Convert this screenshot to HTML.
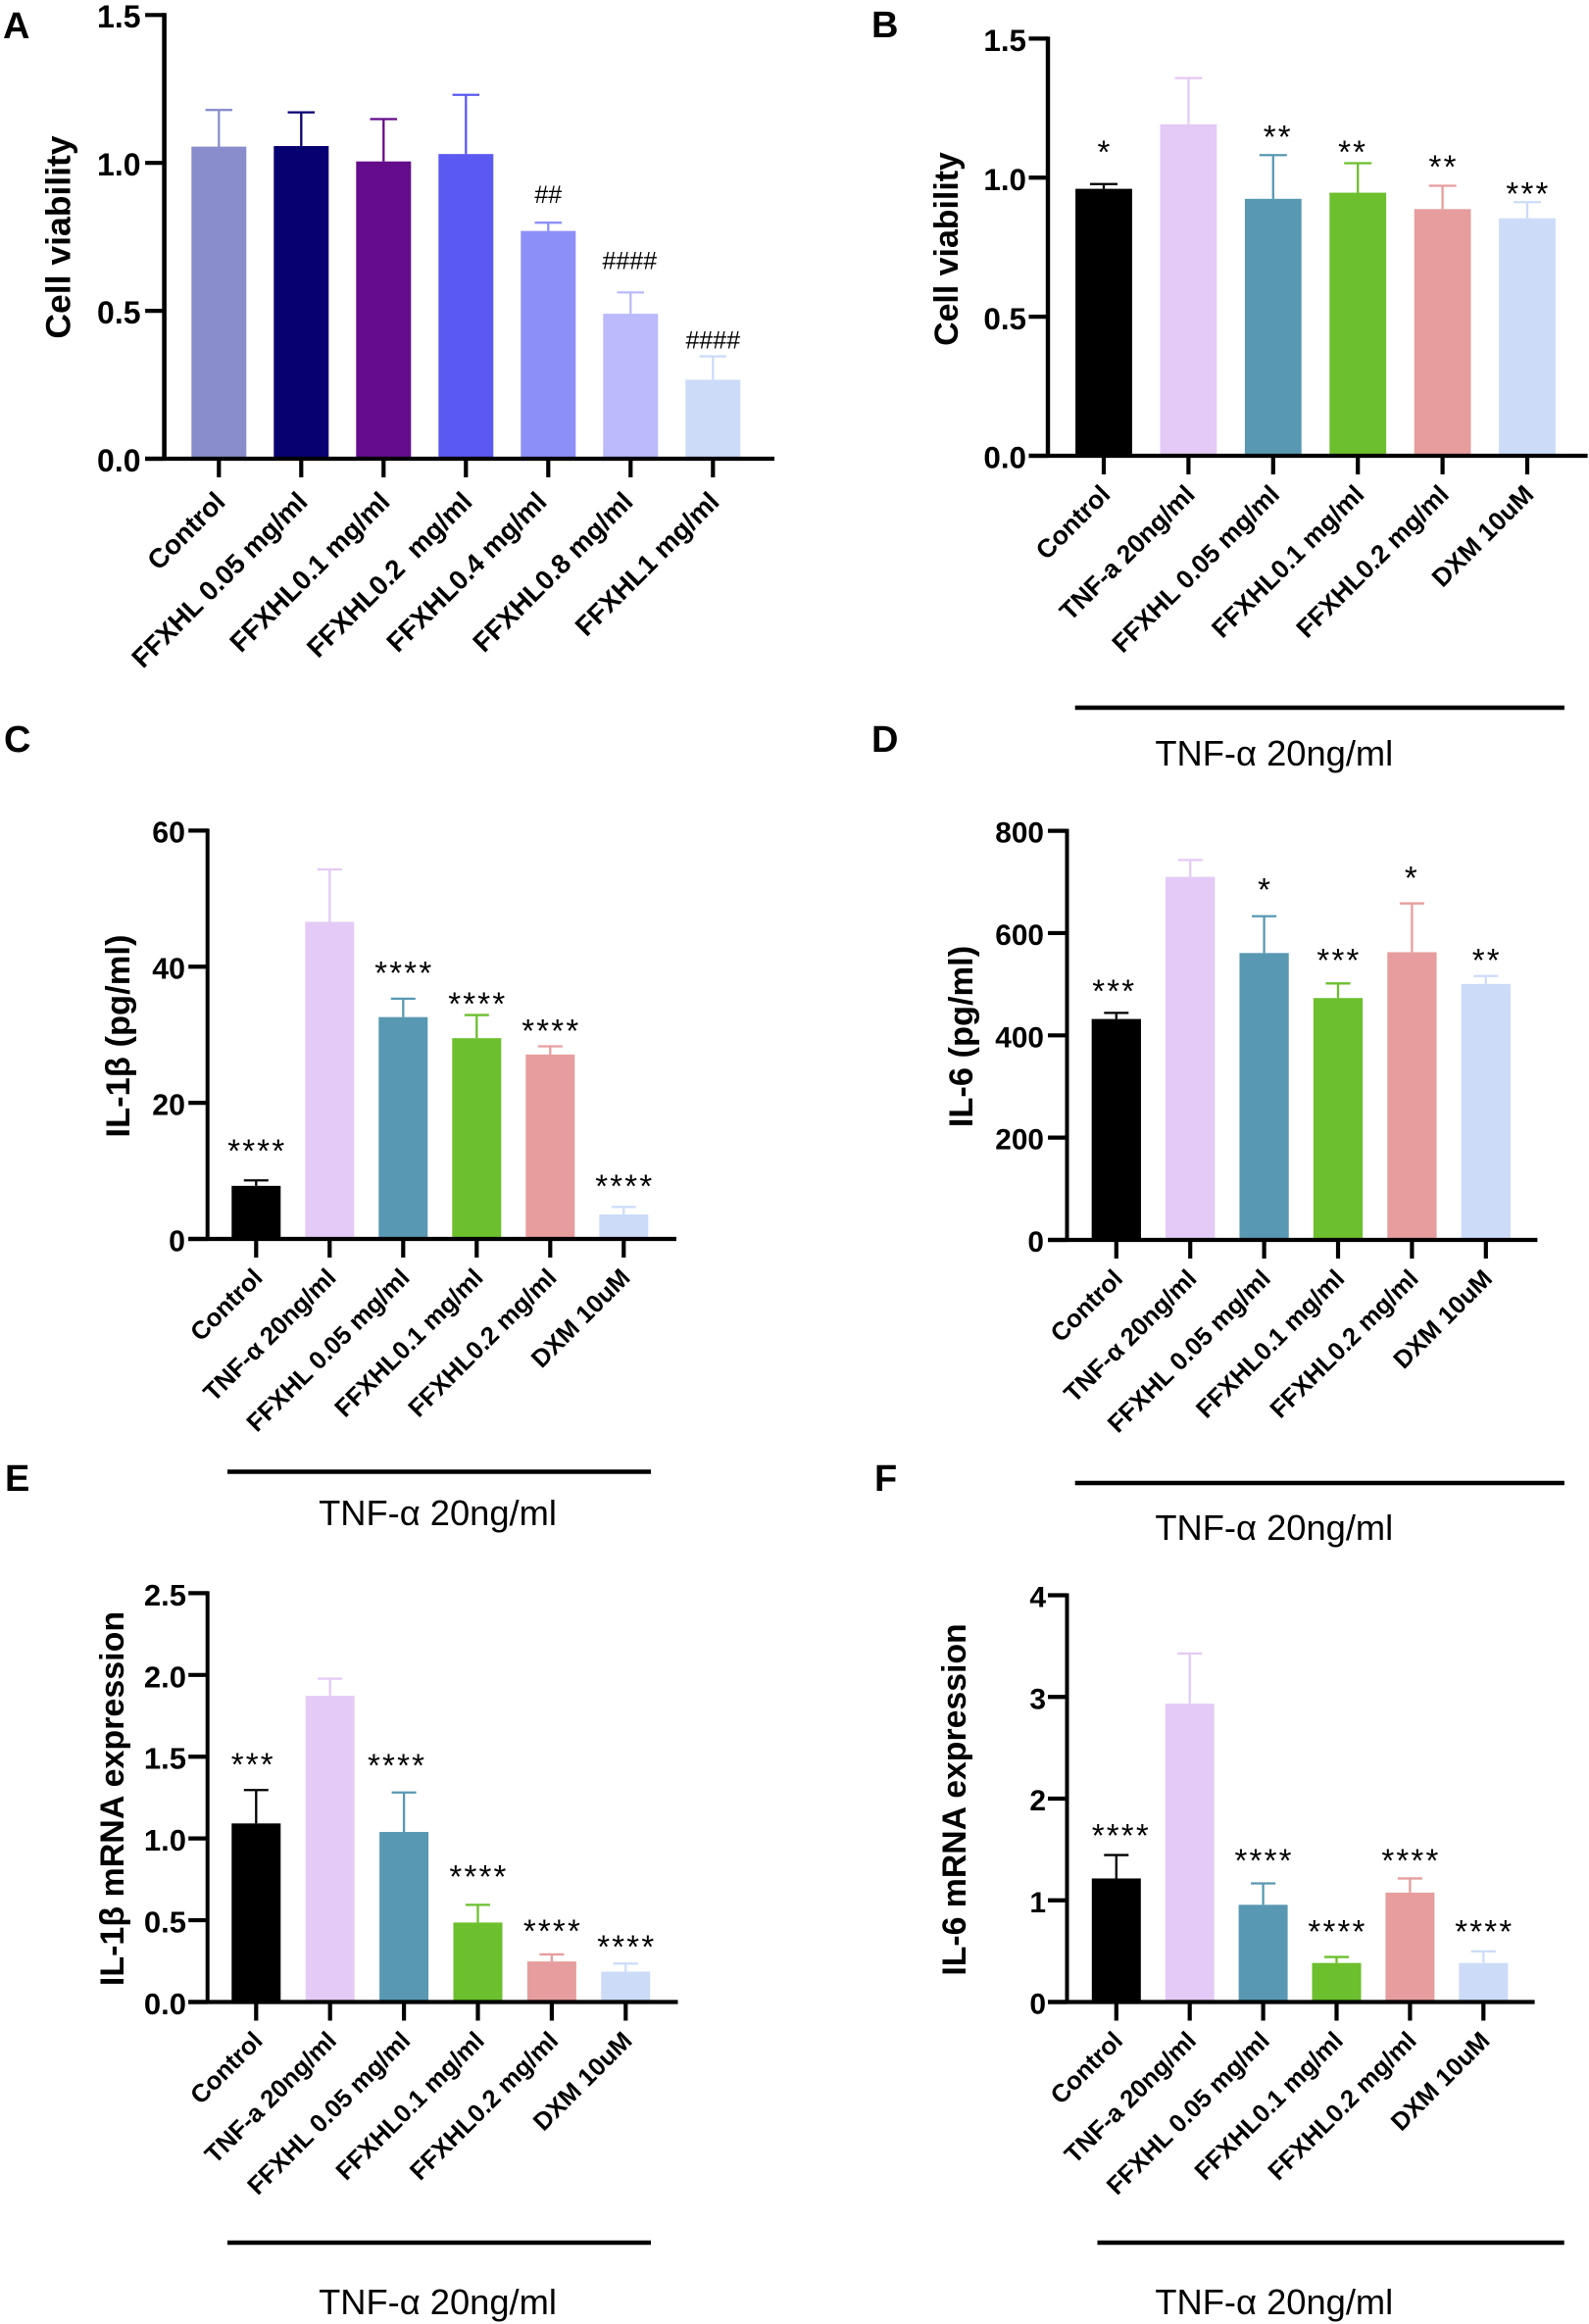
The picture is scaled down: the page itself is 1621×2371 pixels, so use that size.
<!DOCTYPE html>
<html lang="en">
<head>
<meta charset="utf-8">
<title>Cell viability and cytokine expression bar charts</title>
<style>
html,body{margin:0;padding:0;background:#fff;}
#figure{display:block;width:1621px;height:2371px;background:#fff;}
text{font-family:"Liberation Sans",sans-serif;white-space:pre;fill:#000;}
</style>
</head>
<body>
<svg id="figure" xmlns="http://www.w3.org/2000/svg" width="1621" height="2371" viewBox="0 0 1621 2371"></svg>
<script>
// ---- Panel A data ----
const aCategories = ["Control","FFXHL 0.05 mg/ml","FFXHL0.1 mg/ml","FFXHL0.2  mg/ml","FFXHL0.4 mg/ml","FFXHL0.8 mg/ml","FFXHL1 mg/ml"];
const aValues = [1.055,1.057,1.005,1.03,0.77,0.49,0.267];
const aErrorTops = [1.179,1.171,1.148,1.23,0.798,0.562,0.346];
const aTicks = [0,0.5,1.0,1.5];
const aTickLabels = ["0.0","0.5","1.0","1.5"];
const aSigLabels = ["","","","","##","####","####"];
const aSigLevels = [null,null,null,null,0.891,0.667,0.400];
const aColors = ["#8a8dcc","#070070","#650c8c","#5a5af2","#8d8ff8","#babafc","#ccdcf8"];

// ---- Panel B data ----
const bCategories = ["Control","TNF-a 20ng/ml","FFXHL 0.05 mg/ml","FFXHL0.1 mg/ml","FFXHL0.2 mg/ml","DXM 10uM"];
const bValues = [0.960,1.192,0.924,0.946,0.887,0.854];
const bErrorTops = [0.977,1.358,1.081,1.052,0.971,0.912];
const bTicks = [0,0.5,1.0,1.5];
const bTickLabels = ["0.0","0.5","1.0","1.5"];
const bSigLabels = ["*","","**","**","**","***"];
const bSigLevels = [1.106,null,1.160,1.106,1.052,0.955];

// ---- Panel C data ----
const cCategories = ["Control","TNF-α 20ng/ml","FFXHL 0.05 mg/ml","FFXHL0.1 mg/ml","FFXHL0.2 mg/ml","DXM 10uM"];
const cValues = [7.8,46.6,32.6,29.5,27.1,3.6];
const cErrorTops = [8.6,54.3,35.3,32.9,28.3,4.7];
const cTicks = [0,20,40,60];
const cTickLabels = ["0","20","40","60"];
const cSigLabels = ["****","","****","****","****","****"];
const cSigLevels = [13.5,null,39.6,35.1,31.1,8.33];

// ---- Panel D data ----
const dCategories = ["Control","TNF-α 20ng/ml","FFXHL 0.05 mg/ml","FFXHL0.1 mg/ml","FFXHL0.2 mg/ml","DXM 10uM"];
const dValues = [432,710,561,473,562.6,500.5];
const dErrorTops = [444,743,633,501.6,658,516];
const dTicks = [0,200,400,600,800];
const dTickLabels = ["0","200","400","600","800"];
const dSigLabels = ["***","","*","***","*","**"];
const dSigLevels = [494,null,692,554,715,554];

// ---- Panel E data ----
const eCategories = ["Control","TNF-a 20ng/ml","FFXHL 0.05 mg/ml","FFXHL0.1 mg/ml","FFXHL0.2 mg/ml","DXM 10uM"];
const eValues = [1.092,1.872,1.04,0.486,0.248,0.186];
const eErrorTops = [1.296,1.977,1.281,0.594,0.291,0.235];
const eTicks = [0,0.5,1.0,1.5,2.0,2.5];
const eTickLabels = ["0.0","0.5","1.0","1.5","2.0","2.5"];
const eSigLabels = ["***","","****","****","****","****"];
const eSigLevels = [1.476,null,1.470,0.789,0.455,0.362];

// ---- Panel F data ----
const fCategories = ["Control","TNF-a 20ng/ml","FFXHL 0.05 mg/ml","FFXHL0.1 mg/ml","FFXHL0.2 mg/ml","DXM 10uM"];
const fValues = [1.215,2.934,0.956,0.384,1.076,0.384];
const fErrorTops = [1.445,3.427,1.166,0.443,1.215,0.498];
const fTicks = [0,1,2,3,4];
const fTickLabels = ["0","1","2","3","4"];
const fSigLabels = ["****","","****","****","****","****"];
const fSigLevels = [1.674,null,1.430,0.727,1.430,0.727];

const treatmentColors = ["#000000","#e4caf6","#5898b2","#6cbf2d","#e79d9d","#ccdcf8"];
const bracketCaption = "TNF-α 20ng/ml";

const panels = [
 {id:"a",letter:"A",letterX:3,letterY:39,cats:aCategories,vals:aValues,errs:aErrorTops,ticks:aTicks,tickLabels:aTickLabels,sig:aSigLabels,sigLv:aSigLevels,colors:aColors,
  title:"Cell viability",layout:{ax:167.6,axW:4.6,top:15.3,base:468,xEnd:790,first:223.3,step:84,barW:56,capW:27.5,tickFs:32,labelFs:27.7,labelDy:45.5,labelDx:[0,0,0,0,-8,-4,0],labelBaseX:143.5,titleFs:35.5,titleX:71.5,titleY:242,sigDx:[0,0,0,0,0,-1,0]}},
 {id:"b",letter:"B",letterX:889,letterY:38,cats:bCategories,vals:bValues,errs:bErrorTops,ticks:bTicks,tickLabels:bTickLabels,sig:bSigLabels,sigLv:bSigLevels,colors:treatmentColors,
  title:"Cell viability",layout:{ax:1069,axW:4.4,top:39.4,base:465,xEnd:1619.6,first:1126,step:86.4,barW:57.8,capW:28,tickFs:31.4,labelFs:26.4,labelDy:41,labelBaseX:1047,titleFs:33.9,titleX:977,titleY:254,sigDx:[0,0,4,-6,0,0]},
  bracket:{x1:1096.7,x2:1595.9,y:722,textX:1299.8,textY:781}},
 {id:"c",letter:"C",letterX:4,letterY:767,cats:cCategories,vals:cValues,errs:cErrorTops,ticks:cTicks,tickLabels:cTickLabels,sig:cSigLabels,sigLv:cSigLevels,colors:treatmentColors,
  title:"IL-1β (pg/ml)",layout:{ax:211.7,axW:4,top:847.4,base:1264,xEnd:690,first:261.3,step:75,barW:50,capW:25,tickFs:30.3,labelFs:25.7,labelDy:41,labelBaseX:189,titleFs:34.5,titleX:132,titleY:1057,sigDx:[0,0,0,0,0,0]},
  bracket:{x1:232,x2:664,y:1501.5,textX:446.5,textY:1556}},
 {id:"d",letter:"D",letterX:889,letterY:767,cats:dCategories,vals:dValues,errs:dErrorTops,ticks:dTicks,tickLabels:dTickLabels,sig:dSigLabels,sigLv:dSigLevels,colors:treatmentColors,
  title:"IL-6 (pg/ml)",layout:{ax:1088.5,axW:4,top:847.6,base:1265,xEnd:1568.4,first:1138.8,step:75.4,barW:50.3,capW:25,tickFs:29.8,labelFs:25.7,labelDy:41,labelBaseX:1065,titleFs:34.4,titleX:992,titleY:1057.5,sigDx:[-3,0,0,0,-1,0]},
  bracket:{x1:1096.7,x2:1595.9,y:1513,textX:1299.8,textY:1571}},
 {id:"e",letter:"E",letterX:5,letterY:1521,cats:eCategories,vals:eValues,errs:eErrorTops,ticks:eTicks,tickLabels:eTickLabels,sig:eSigLabels,sigLv:eSigLevels,colors:treatmentColors,
  title:"IL-1β mRNA expression",layout:{ax:211.7,axW:4,top:1625.4,base:2042.5,xEnd:691.5,first:261.3,step:75.4,barW:50,capW:25,tickFs:31,labelFs:25.7,labelDy:41,labelBaseX:190,titleFs:34,titleX:126,titleY:1835,sigDx:[-4,0,-8,0,0,0]},
  bracket:{x1:232,x2:664,y:2288,textX:446.5,textY:2361}},
 {id:"f",letter:"F",letterX:892,letterY:1521,cats:fCategories,vals:fValues,errs:fErrorTops,ticks:fTicks,tickLabels:fTickLabels,sig:fSigLabels,sigLv:fSigLevels,colors:treatmentColors,
  title:"IL-6 mRNA expression",layout:{ax:1088.5,axW:4,top:1627.5,base:2042.5,xEnd:1565.6,first:1138.8,step:74.9,barW:50,capW:25,tickFs:30,labelFs:25.7,labelDy:41,labelBaseX:1067,titleFs:33.8,titleX:985,titleY:1836,sigDx:[4,0,0,0,0,0]},
  bracket:{x1:1119.5,x2:1595.7,y:2288,textX:1299.8,textY:2361}}
];

const NS = "http://www.w3.org/2000/svg";
const root = document.getElementById("figure");

function make(tag, attrs, parent, content){
  const node = document.createElementNS(NS, tag);
  for(const k in attrs){ node.setAttribute(k, attrs[k]); }
  if(content !== undefined){ node.textContent = content; }
  parent.appendChild(node);
  return node;
}
function slug(s){ return String(s).toLowerCase().replace(/[^a-z0-9]+/g,"-").replace(/^-|-$/g,""); }

panels.forEach(function(p){
  const L = p.layout;
  const yMax = p.ticks[p.ticks.length-1];
  const yScale = function(v){ return L.base - (v / yMax) * (L.base - L.top); };
  const xScale = function(i){ return L.first + i * L.step; };

  const g = make("g", {}, root);
  
  

  let el = make("text", {x:p.letterX, y:p.letterY, "font-size":38, "font-weight":"bold"}, g, p.letter);
  
  

  // error bars and bars
  p.cats.forEach(function(cat, i){
    const cx = xScale(i);
    const yTop = yScale(p.vals[i]);
    const yErr = yScale(p.errs[i]);
    const col = p.colors[i];

    const stem = make("line", {x1:cx, x2:cx, y1:yTop, y2:yErr, stroke:col, "stroke-width":2.3}, g);
    
    

    const cap = make("line", {x1:cx - L.capW/2, x2:cx + L.capW/2, y1:yErr, y2:yErr, stroke:col, "stroke-width":2.3}, g);
    
    

    const bar = make("rect", {x:cx - L.barW/2, y:yTop, width:L.barW, height:L.base - yTop, fill:col}, g);
    
    
  });

  // significance marks
  p.sig.forEach(function(label, i){
    if(!label){ return; }
    const isHash = label.charAt(0) === "#";
    const fs = isHash ? 25 : 33;
    const sx = xScale(i) + (L.sigDx ? L.sigDx[i] : 0) + (isHash ? 0 : 1);
    const sy = yScale(p.sigLv[i]) + (isHash ? 0.32 * fs : 0.52 * fs - 2);
    const mark = make("text", {x:sx, y:sy, "font-size":fs, "text-anchor":"middle", "letter-spacing":isHash ? 0 : 2.2}, g, label);
    
    
  });

  // y axis
  const yAxis = make("line", {x1:L.ax, x2:L.ax, y1:L.top - 2, y2:L.base + 2, stroke:"#000", "stroke-width":L.axW}, g);
  
  

  p.ticks.forEach(function(t, i){
    const ty = yScale(t);
    const tk = make("line", {x1:L.ax - 19.5, x2:L.ax, y1:ty, y2:ty, stroke:"#000", "stroke-width":4.2}, g);
    
    
    const lb = make("text", {x:L.labelBaseX, y:ty + 0.355 * L.tickFs + 1.5, "font-size":L.tickFs, "font-weight":"bold", "text-anchor":"end"}, g, p.tickLabels[i]);
    
    
  });

  // x axis
  const xAxis = make("line", {x1:L.ax - 19.5, x2:L.xEnd, y1:L.base, y2:L.base, stroke:"#000", "stroke-width":4.2}, g);
  
  

  p.cats.forEach(function(cat, i){
    const cx = xScale(i);
    const tk = make("line", {x1:cx, x2:cx, y1:L.base, y2:L.base + 19, stroke:"#000", "stroke-width":4.2}, g);
    
    
    const ax = cx + 8 + (L.labelDx ? L.labelDx[i] : 0), ay = L.base + L.labelDy;
    const lb = make("text", {x:ax, y:ay, "font-size":L.labelFs, "font-weight":"bold", "text-anchor":"end", transform:"rotate(-45 " + ax + " " + ay + ")"}, g, cat);
    
    
  });

  // y axis title
  const yt = make("text", {x:L.titleX, y:L.titleY, "font-size":L.titleFs, "font-weight":"bold", "text-anchor":"middle", transform:"rotate(-90 " + L.titleX + " " + L.titleY + ")"}, g, p.title);
  
  

  // treatment bracket
  if(p.bracket){
    const B = p.bracket;
    const ln = make("line", {x1:B.x1, x2:B.x2, y1:B.y, y2:B.y, stroke:"#000", "stroke-width":4.6}, g);
    
    
    const tx = make("text", {x:B.textX, y:B.textY, "font-size":36.3, "text-anchor":"middle"}, g, bracketCaption);
    
    
  }
});
</script>
</body>
</html>
